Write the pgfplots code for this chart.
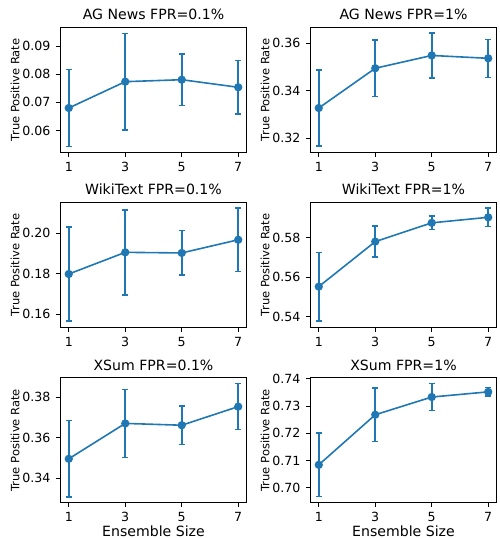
\documentclass[border=0pt]{standalone}
\usepackage{fontspec}
\setmainfont{DejaVu Sans}
\usepackage{pgfplots}
\pgfplotsset{compat=1.18}
\definecolor{tabblue}{RGB}{31,119,180}
\newcommand\tickfont{\fontsize{12.6}{14}\selectfont}
\newcommand\titlefont{\fontsize{14.1}{16}\selectfont}
\newcommand\ylabfont{\fontsize{11.5}{13}\selectfont}
\pgfplotsset{
  panel/.style={
    scale only axis, width=186.4pt, height=125pt,
    xmin=0.7, xmax=7.3, xtick={1,3,5,7},
    xtick pos=left, ytick pos=left,
    tick align=outside, major tick length=4.4pt,
    every tick/.style={black, line width=1pt},
    axis line style={line width=1pt},
    ticklabel style={font=\tickfont},
    scaled y ticks=false,
    /pgf/number format/assume math mode=true,
    yticklabel style={anchor=east, inner sep=0pt, xshift=-5.3pt,
      /pgf/number format/fixed, /pgf/number format/fixed zerofill, /pgf/number format/precision=2},
    xticklabel style={anchor=base, yshift=-14.7pt},
    ylabel={True Positive Rate},
    ylabel style={at={(axis description cs:-0.242,0.5)}, anchor=center, font=\ylabfont},
    every axis title shift=0pt,
    title style={at={(axis description cs:0.5,1)}, anchor=base, yshift=7.3pt, font=\titlefont},
    xlabel style={at={(axis description cs:0.5,0)}, anchor=base, yshift=-33.7pt, font=\titlefont},
  },
  ser/.style={tabblue, line width=1.6pt, mark=*, mark size=3.3pt,
    mark options={solid, fill=tabblue, draw=tabblue},
    error bars/.cd, y dir=both, y explicit,
    error bar style={line width=1.9pt, tabblue},
    error mark options={line width=1.5pt, mark size=3pt, tabblue, rotate=90}},
}
\begin{document}
\begin{tikzpicture}
\useasboundingbox (0,0) rectangle (500pt,539pt);
% Row 1
\begin{axis}[panel, at={(60.3pt,511.7pt)}, anchor=north west,
  ymin=0.0522, ymax=0.0968, ytick={0.06,0.07,0.08,0.09},
  title={AG News FPR=0.1\%}]
\addplot[ser] coordinates {(1,0.0680) +- (0,0.0137) (3,0.0774) +- (0,0.0172) (5,0.0781) +- (0,0.0092) (7,0.0754) +- (0,0.0096)};
\end{axis}
\begin{axis}[panel, at={(310.3pt,511.7pt)}, anchor=north west,
  ymin=0.3140, ymax=0.3668, ytick={0.32,0.34,0.36},
  title={AG News FPR=1\%}]
\addplot[ser] coordinates {(1,0.3327) +- (0,0.0161) (3,0.3495) +- (0,0.0120) (5,0.3549) +- (0,0.0095) (7,0.3537) +- (0,0.0080)};
\end{axis}
% Row 2
\begin{axis}[panel, at={(60.3pt,336.7pt)}, anchor=north west,
  ymin=0.1536, ymax=0.2153, ytick={0.16,0.18,0.20},
  title={WikiText FPR=0.1\%}]
\addplot[ser] coordinates {(1,0.1799) +- (0,0.0233) (3,0.1906) +- (0,0.0210) (5,0.1903) +- (0,0.0110) (7,0.1968) +- (0,0.0157)};
\end{axis}
\begin{axis}[panel, at={(310.3pt,336.7pt)}, anchor=north west,
  ymin=0.5346, ymax=0.5979, ytick={0.54,0.56,0.58},
  title={WikiText FPR=1\%}]
\addplot[ser] coordinates {(1,0.5552) +- (0,0.0174) (3,0.5780) +- (0,0.0078) (5,0.5875) +- (0,0.0035) (7,0.5903) +- (0,0.0047)};
\end{axis}
% Row 3
\begin{axis}[panel, at={(60.3pt,161.3pt)}, anchor=north west,
  ymin=0.3278, ymax=0.3896, ytick={0.34,0.36,0.38},
  title={XSum FPR=0.1\%}, xlabel={Ensemble Size}]
\addplot[ser] coordinates {(1,0.3495) +- (0,0.0189) (3,0.3670) +- (0,0.0168) (5,0.3661) +- (0,0.0096) (7,0.3753) +- (0,0.0114)};
\end{axis}
\begin{axis}[panel, at={(310.3pt,161.3pt)}, anchor=north west,
  ymin=0.6945, ymax=0.7404, ytick={0.70,0.71,0.72,0.73,0.74},
  title={XSum FPR=1\%}, xlabel={Ensemble Size}]
\addplot[ser] coordinates {(1,0.7084) +- (0,0.0117) (3,0.7268) +- (0,0.0099) (5,0.7333) +- (0,0.0049) (7,0.7352) +- (0,0.0016)};
\end{axis}
\end{tikzpicture}
\end{document}
